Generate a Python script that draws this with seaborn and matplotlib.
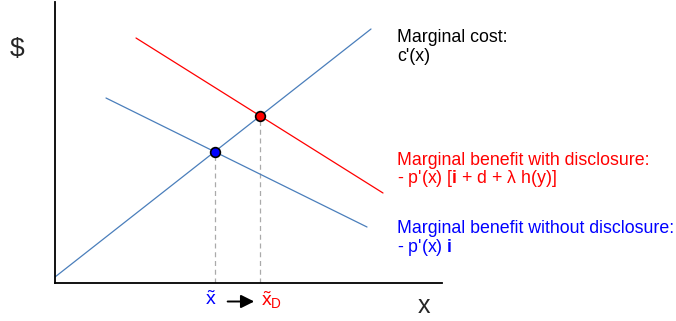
import numpy as np
import pandas as pd
import seaborn as sns
import matplotlib.pyplot as plt

# line end points (x, $)
cost_x = [0, 316]
cost_y = [6, 254]
mb_x = [51, 312]          # without disclosure
mb_y = [185, 56]
mbd_x = [81, 328]         # with disclosure
mbd_y = [245, 90]

line_blue = '#4a7ebb'

sns.set_style('white')
plt.rcParams['font.family'] = ['Liberation Sans', 'DejaVu Sans']
plt.rcParams['mathtext.fontset'] = 'custom'
plt.rcParams['mathtext.rm'] = 'Liberation Sans'
plt.rcParams['mathtext.it'] = 'Liberation Sans'
plt.rcParams['mathtext.bf'] = 'Liberation Sans:bold'


def intersect(ax1, ay1, bx, by):
    p = np.polyfit(ax1, ay1, 1)
    q = np.polyfit(bx, by, 1)
    x = (q[1] - p[1]) / (p[0] - q[0])
    return x, np.polyval(p, x)


fig = plt.figure(figsize=(6.76, 3.21), dpi=100)
ax = fig.add_axes([55 / 676, 38 / 321, 387 / 676, 281 / 321])

df = pd.concat([
    pd.DataFrame({'x': cost_x, 'y': cost_y, 'curve': 'cost'}),
    pd.DataFrame({'x': mb_x, 'y': mb_y, 'curve': 'mb'}),
    pd.DataFrame({'x': mbd_x, 'y': mbd_y, 'curve': 'mbd'}),
])
sns.lineplot(data=df, x='x', y='y', hue='curve', estimator=None, sort=False,
             palette={'cost': line_blue, 'mb': line_blue, 'mbd': 'red'},
             linewidth=0.9, legend=False, ax=ax)

x0, y0 = intersect(cost_x, cost_y, mb_x, mb_y)
x1, y1 = intersect(cost_x, cost_y, mbd_x, mbd_y)
for xx, yy in [(x0, y0), (x1, y1)]:
    ax.plot([xx, xx], [0, yy], color='#aaaaaa', linestyle=(0, (4, 3)), linewidth=0.9, zorder=1)
ax.plot(x0, y0, 'o', color='blue', markeredgecolor='black', markersize=7, markeredgewidth=1.2, zorder=5)
ax.plot(x1, y1, 'o', color='red', markeredgecolor='black', markersize=7, markeredgewidth=1.2, zorder=5)

ax.set_xlim(0, 387)
ax.set_ylim(0, 281)
ax.set_xticks([])
ax.set_yticks([])
ax.set_xlabel('')
ax.set_ylabel('')
for s in ['top', 'right']:
    ax.spines[s].set_visible(False)
for s in ['left', 'bottom']:
    ax.spines[s].set_color('black')
    ax.spines[s].set_linewidth(1.3)

fs = 12.8
kw = dict(fontsize=fs, ha='left', va='baseline', clip_on=False)
ax.text(342, 241, 'Marginal cost:', color='black', **kw)
ax.text(342, 222, "c'(x)", color='black', **kw)
ax.text(342, 118, 'Marginal benefit with disclosure:', color='red', **kw)
ax.text(342, 100, r"- p'(x) [$\mathbf{i}$ + d + λ h(y)]", color='red', **kw)
ax.text(342, 50, 'Marginal benefit without disclosure:', color='blue', **kw)
ax.text(342, 31, r"- p'(x) $\mathbf{i}$", color='blue', **kw)

ax.text(-38, 234, '$', fontsize=19, ha='center', va='center', clip_on=False)
ax.text(369, -23, 'x', fontsize=18, ha='center', va='center', clip_on=False)

ax.text(x0 - 4, -17, r'$\tilde{\mathrm{x}}$', color='blue', fontsize=14,
        ha='center', va='center', clip_on=False)
ax.text(x1 + 1, -17, r'$\tilde{\mathrm{x}}_{\mathrm{D}}$', color='red', fontsize=14,
        ha='left', va='center', clip_on=False)
ax.annotate('', xy=(x1 - 6, -18.5), xytext=(x0 + 13, -18.5),
            arrowprops=dict(arrowstyle='-|>', color='black', lw=1.4, mutation_scale=20,
                            shrinkA=0, shrinkB=0),
            annotation_clip=False)

fig.savefig('out.png', dpi=100)
